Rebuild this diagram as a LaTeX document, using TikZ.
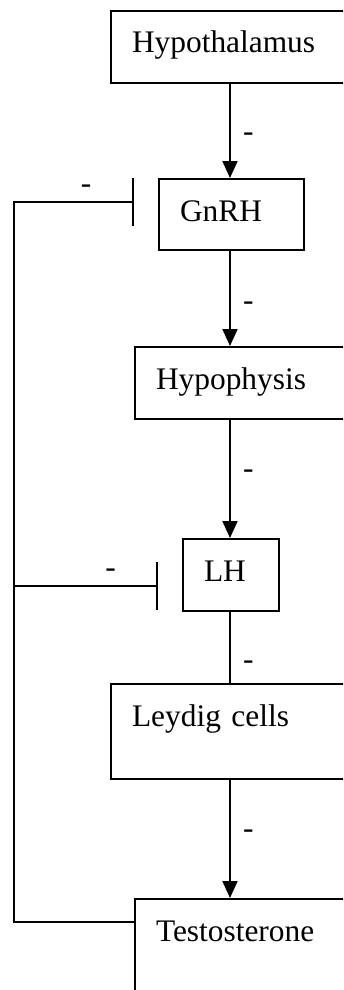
\documentclass[tikz,border=0pt]{standalone}
\usepackage{fontspec}
\setmainfont{Liberation Serif}
\usepackage{tikz}
\usetikzlibrary{arrows.meta, positioning, calc}

\tikzset{
  organ/.style={draw, line width=1pt, anchor=north west, align=left,
    inner xsep=10.5pt, inner ysep=0pt, text height=21pt,
    font=\fontsize{15.7}{18.8}\selectfont},
  stim/.style={line width=1pt, -{Triangle[length=8.5pt, width=7.5pt]}},
  inhib/.style={line width=1pt, -{Bar[width=24pt]}},
  sign/.style={font=\fontsize{15.7}{18.8}\selectfont, inner sep=0pt}
}

\begin{document}
\begin{tikzpicture}[x=0.5pt, y=-0.5pt]
  %% frame 343 x 990, boxes run off the right edge
  \useasboundingbox (0,0) rectangle (343,990);
  \clip (0,0) rectangle (343,990);

  %% boxes of the axis
  \node[organ, text width=104pt, text depth=15pt] (hypothal) at (110,10) {Hypothalamus};
  \node[organ, text width=51.5pt, text depth=14.5pt] (gnrh) at (158,178) {GnRH};
  \node[organ, text width=92pt, text depth=15pt] (hypoph) at (134,346) {Hypophysis};
  \node[organ, text width=27pt, text depth=15pt] (lh) at (182,538) {LH};
  \node[organ, text width=104pt, text depth=26.5pt] (leydig) at (110,683) {Leydig cells};
  \node[organ, text width=92pt, text depth=39pt] (testo) at (134,898) {Testosterone};

  \coordinate (spine) at (230,0);
  \coordinate (rail) at (14,0);

  %% downward chain
  \draw[stim] (hypothal.south -| spine) -- (gnrh.north -| spine)
    node[sign, pos=0.57, right=6pt] {-};
  \draw[stim] (gnrh.south -| spine) -- (hypoph.north -| spine)
    node[sign, pos=0.58, right=6pt] {-};
  \draw[stim] (hypoph.south -| spine) -- (lh.north -| spine)
    node[sign, pos=0.46, right=6pt] {-};
  \draw[line width=1pt] (lh.south -| spine) -- (leydig.north -| spine)
    node[sign, pos=0.75, right=6pt] {-};
  \draw[stim] (leydig.south -| spine) -- (testo.north -| spine)
    node[sign, pos=0.46, right=6pt] {-};

  %% negative feedback from testosterone
  \coordinate (testoOut) at ([yshift=-12pt]testo.north west);
  \coordinate (gnrhBar) at ([xshift=-12pt, yshift=-12pt]gnrh.north west);
  \coordinate (lhBar) at ([xshift=-12pt, yshift=-24pt]lh.north west);

  \draw[inhib] (testoOut) -- (testoOut -| rail) -- (rail |- gnrhBar) -- (gnrhBar)
    node[sign, pos=0.6, above=4pt] {-};
  \draw[inhib] (rail |- lhBar) -- (lhBar)
    node[sign, pos=0.67, above=4pt] {-};

\end{tikzpicture}
\end{document}
